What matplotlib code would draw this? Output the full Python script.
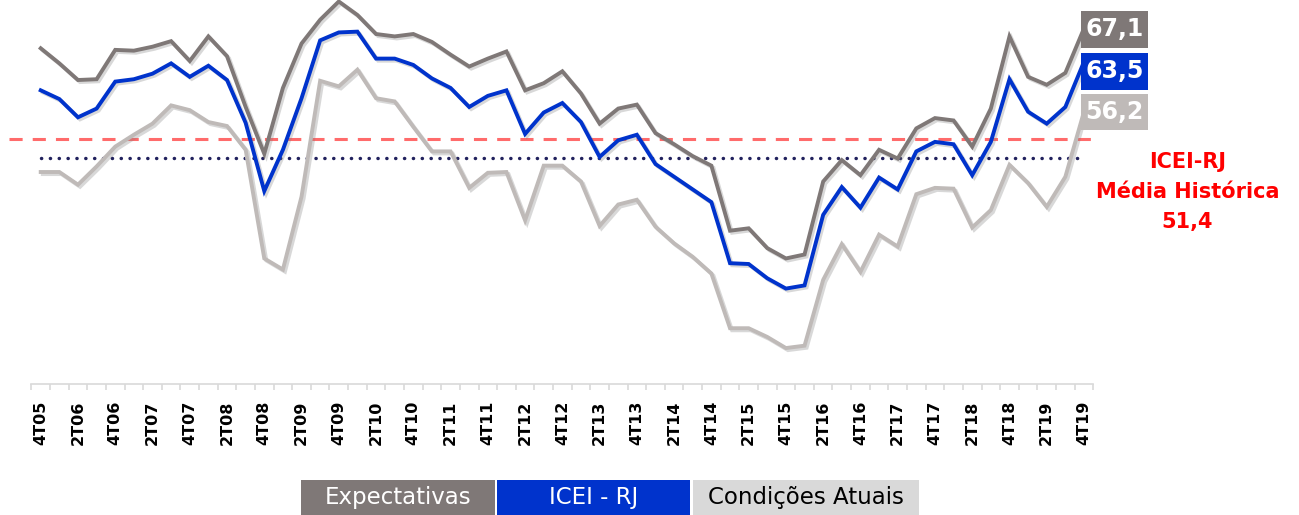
import matplotlib
matplotlib.use("Agg")
import matplotlib.pyplot as plt
import matplotlib.patheffects as pe
from matplotlib.patches import Rectangle
import numpy as np

W, H = 1299, 515

# rotulos do eixo (a cada 2 trimestres)
tick_labels = ["4T05", "2T06", "4T06", "2T07", "4T07", "2T08", "4T08", "2T09", "4T09", "2T10",
               "4T10", "2T11", "4T11", "2T12", "4T12", "2T13", "4T13", "2T14", "4T14", "2T15",
               "4T15", "2T16", "4T16", "2T17", "4T17", "2T18", "4T18", "2T19", "4T19"]

# series trimestrais 4T05 .. 4T19
expectativas = [65.2, 63.3, 61.2, 61.3, 65.0, 64.9, 65.4, 66.1, 63.6, 66.7,
                64.2, 57.8, 51.9, 60.2, 65.8, 68.8, 71.1, 69.4, 67.0, 66.7,
                67.0, 66.0, 64.4, 62.9, 63.9, 64.8, 59.9, 60.8, 62.3, 59.5,
                55.7, 57.6, 58.1, 54.5, 53.1, 51.6, 50.4, 42.2, 42.5, 40.0,
                38.7, 39.2, 48.4, 51.1, 49.2, 52.4, 51.3, 55.1, 56.4, 56.1,
                52.8, 57.6, 66.7, 61.6, 60.6, 62.1, 67.7]

icei_rj = [59.9, 58.8, 56.5, 57.6, 61.0, 61.3, 62.0, 63.3, 61.6, 63.0,
           61.2, 55.8, 47.2, 52.4, 58.9, 66.2, 67.2, 67.3, 63.9, 63.9,
           63.1, 61.4, 60.2, 57.8, 59.2, 59.9, 54.4, 57.1, 58.3, 55.9,
           51.5, 53.6, 54.3, 50.6, 49.0, 47.4, 45.8, 38.1, 38.0, 36.2,
           34.9, 35.3, 44.2, 47.7, 45.1, 48.9, 47.4, 52.2, 53.4, 53.1,
           49.2, 53.4, 61.3, 57.2, 55.7, 57.8, 63.5]

condicoes = [49.6, 49.6, 48.0, 50.3, 52.8, 54.3, 55.7, 58.0, 57.4, 55.9,
             55.4, 52.4, 38.7, 37.3, 46.5, 61.1, 60.4, 62.5, 58.9, 58.5,
             55.3, 52.2, 52.2, 47.6, 49.5, 49.6, 43.5, 50.4, 50.4, 48.4,
             42.8, 45.5, 46.1, 42.7, 40.6, 38.9, 36.8, 29.9, 29.9, 28.8,
             27.4, 27.7, 36.0, 40.5, 37.0, 41.7, 40.2, 46.8, 47.6, 47.5,
             42.6, 44.8, 50.5, 48.2, 45.2, 49.0, 57.2]

media_historica = 51.4
linha_ref = 53.8
ultimos = ["67,1", "63,5", "56,2"]
legenda = ["Expectativas", "ICEI - RJ", "Condições Atuais"]

C_EXP = "#7f7877"
C_ICEI = "#0033cc"
C_COND = "#bfbab8"
C_LEG_COND = "#d9d9d9"


def fx(x):
    return x / W


def fy(y):
    return 1 - y / H


fig = plt.figure(figsize=(W / 100, H / 100), dpi=100)
ax = fig.add_axes([fx(31.4), fy(384.3), (1093.3 - 31.4) / W, 384.3 / H])
ax.set_xlim(-0.5, 56.5)
ax.set_ylim(22.83, 71.29)

x = np.arange(len(icei_rj))
shadow = [pe.SimpleLineShadow(offset=(1.5, -1.5), shadow_color="#808080", alpha=0.3),
          pe.Normal()]
for serie, cor in [(condicoes, C_COND), (expectativas, C_EXP), (icei_rj, C_ICEI)]:
    ax.plot(x, serie, color=cor, lw=2.8, clip_on=False, solid_joinstyle="miter",
            path_effects=shadow, zorder=3)

ax.plot([-1.7, 56.65], [linha_ref, linha_ref], color="#ff6b6b", lw=2.2,
        dashes=(4.3, 3.3), clip_on=False, zorder=2)
ax.plot([0, 55.7], [media_historica, media_historica], color="#22225e", lw=2.5,
        dashes=(0.05, 2.5), dash_capstyle="round", clip_on=False, zorder=2)

for s in ["top", "left", "right"]:
    ax.spines[s].set_visible(False)
ax.spines["bottom"].set_color("#d9d9d9")
ax.spines["bottom"].set_linewidth(1.2)
ax.set_yticks([])
ax.set_xticks(np.arange(0, 57, 2))
ax.set_xticklabels(tick_labels, rotation=90, fontsize=11.5, fontweight="bold")
ax.set_xticks(np.arange(-0.5, 57, 1), minor=True)
ax.tick_params(axis="x", which="major", length=0, pad=12)
ax.tick_params(axis="x", which="minor", length=4.5, color="#d9d9d9", width=1.2)

# caixas com os ultimos valores
for (y0, y1), txt, cor in zip([(11, 48), (53, 90), (94, 130)], ultimos, [C_EXP, C_ICEI, C_COND]):
    fig.add_artist(Rectangle((fx(1081), fy(y1)), 67 / W, (y1 - y0) / H,
                             transform=fig.transFigure, color=cor, lw=0))
    fig.text(fx(1114.5), fy((y0 + y1) / 2), txt, color="white", fontsize=17,
             fontweight="bold", ha="center", va="center")

# media historica
for yy, txt in zip([161.7, 191.7, 221.7], ["ICEI-RJ", "Média Histórica", "51,4"]):
    fig.text(fx(1187.5), fy(yy), txt, color="#ff0000", fontsize=15,
             fontweight="bold", ha="center", va="center")

# legenda
for (x0, w), txt, cor, tcor in zip([(301, 194), (497, 193), (693, 226)], legenda,
                                   [C_EXP, C_ICEI, C_LEG_COND], ["white", "white", "black"]):
    fig.add_artist(Rectangle((fx(x0), fy(515)), w / W, 35 / H,
                             transform=fig.transFigure, color=cor, lw=0))
    fig.text(fx(x0 + w / 2), fy(497.5), txt, color=tcor, fontsize=16.5,
             ha="center", va="center")

fig.savefig("out.png", dpi=100)
